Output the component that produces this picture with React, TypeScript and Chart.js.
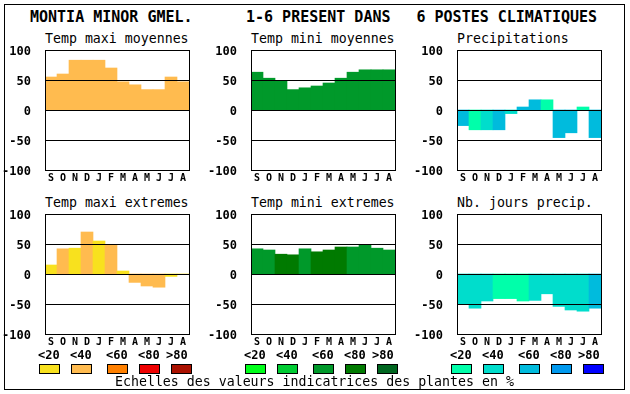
import React, { useEffect, useRef } from "react";
import { Chart, registerables } from "chart.js";

Chart.register(...registerables);

// ---------- data ----------
const MONTHS = ["S", "O", "N", "D", "J", "F", "M", "A", "M", "J", "J", "A"];
const Y_TICKS = [-100, -50, 0, 50, 100];
const GRID_LINES = [50, 0, -50];
const LEGEND_LABELS = ["<20", "<40", "<60", "<80", ">80"];

const TITLE_LEFT = "MONTIA MINOR GMEL.";
const TITLE_MID = "1-6 PRESENT DANS";
const TITLE_RIGHT = "6 POSTES CLIMATIQUES";
const FOOTER = "Echelles des valeurs indicatrices des plantes en %";

const PAL_TEMP = ["#F8E11E", "#FFBB4F", "#FF8000", "#EE0000", "#AA1100"];
const PAL_GREEN = ["#00FF1A", "#00CC33", "#00992A", "#007A00", "#006620"];
const PAL_BLUE = ["#00FFAA", "#00DDCC", "#00BBDD", "#0099EE", "#0000FF"];

const tmaxMoy = [55, 60, 83, 83, 83, 70, 47, 42, 34, 34, 55, 47];
const tmaxMoyClass = [1, 1, 1, 1, 1, 1, 1, 1, 1, 1, 1, 1];

const tminMoy = [63, 53, 49, 34, 37, 40, 45, 53, 63, 67, 67, 67];
const tminMoyClass = [2, 2, 2, 2, 2, 2, 2, 2, 2, 2, 2, 2];

const precip = [-26, -33, -33, -33, -6, 5, 17, 17, -46, -38, 5, -46];
const precipClass = [2, 0, 1, 2, 1, 2, 2, 0, 2, 2, 0, 2];

const tmaxExt = [15, 42, 43, 70, 55, 49, 5, -14, -20, -22, -4, 0];
const tmaxExtClass = [0, 1, 0, 1, 0, 1, 0, 1, 1, 1, 0, 0];

const tminExt = [42, 40, 33, 32, 42, 37, 40, 45, 45, 48, 43, 40];
const tminExtClass = [2, 2, 3, 3, 2, 3, 3, 3, 2, 2, 2, 2];

const nbJours = [-50, -57, -45, -41, -41, -45, -44, -33, -54, -60, -62, -57];
const nbJoursClass = [1, 1, 1, 0, 0, 0, 1, 1, 1, 1, 1, 2];

// ---------- layout ----------
const MONO = '"DejaVu Sans Mono", monospace';
const COL_LEFT = [45, 251, 457];
const ROW_TOP = [50, 214];
const PLOT_W = 144;
const PLOT_H = 120;
const AXIS_W = 45;
const PAD_TOP = 4;
const PAD_RIGHT = 2;
const XAXIS_H = 18;
const BOX_OFFSETS = [-6, 26, 62, 94, 126];
const LABEL_OFFSETS = [-6, 26, 62, 94, 122];

type PanelDef = {
  title: string;
  values: number[];
  classes: number[];
  palette: string[];
  col: number;
  row: number;
};

const PANELS: PanelDef[] = [
  { title: "Temp maxi moyennes", values: tmaxMoy, classes: tmaxMoyClass, palette: PAL_TEMP, col: 0, row: 0 },
  { title: "Temp mini moyennes", values: tminMoy, classes: tminMoyClass, palette: PAL_GREEN, col: 1, row: 0 },
  { title: "Precipitations", values: precip, classes: precipClass, palette: PAL_BLUE, col: 2, row: 0 },
  { title: "Temp maxi extremes", values: tmaxExt, classes: tmaxExtClass, palette: PAL_TEMP, col: 0, row: 1 },
  { title: "Temp mini extremes", values: tminExt, classes: tminExtClass, palette: PAL_GREEN, col: 1, row: 1 },
  { title: "Nb. jours precip.", values: nbJours, classes: nbJoursClass, palette: PAL_BLUE, col: 2, row: 1 },
];

const LEGENDS = [PAL_TEMP, PAL_GREEN, PAL_BLUE];

const framePlugin = {
  id: "frame",
  afterDatasetsDraw(chart: any) {
    const { ctx, chartArea: a, scales } = chart;
    const y = scales.y;
    ctx.save();
    ctx.strokeStyle = "#000";
    ctx.lineWidth = 1;
    ctx.beginPath();
    for (const v of GRID_LINES) {
      const py = Math.round(y.getPixelForValue(v)) + 0.5;
      ctx.moveTo(Math.round(a.left), py);
      ctx.lineTo(Math.round(a.right) + 1, py);
    }
    ctx.stroke();
    ctx.strokeRect(
      Math.round(a.left) + 0.5,
      Math.round(a.top) + 0.5,
      Math.round(a.right - a.left),
      Math.round(a.bottom - a.top)
    );
    ctx.restore();
  },
};

function textTop(baseline: number, size: number) {
  return baseline - 0.846 * size;
}

function Text(props: {
  text: string;
  left: number;
  baseline: number;
  size: number;
  bold?: boolean;
}) {
  const { text, left, baseline, size, bold } = props;
  return (
    <div
      style={{
        position: "absolute",
        left,
        top: textTop(baseline, size),
        fontFamily: MONO,
        fontSize: size,
        lineHeight: `${size}px`,
        fontWeight: bold ? "bold" : "normal",
        whiteSpace: "pre",
        color: "#000",
      }}
    >
      {text}
    </div>
  );
}

function BarPanel({ p }: { p: PanelDef }) {
  const ref = useRef<HTMLCanvasElement | null>(null);
  const plotLeft = COL_LEFT[p.col];
  const plotTop = ROW_TOP[p.row];
  const w = AXIS_W + PLOT_W + PAD_RIGHT;
  const h = PAD_TOP + PLOT_H + XAXIS_H;

  useEffect(() => {
    if (!ref.current) return;
    const chart = new Chart(ref.current, {
      type: "bar",
      data: {
        labels: MONTHS,
        datasets: [
          {
            data: p.values,
            backgroundColor: p.classes.map((c) => p.palette[c]),
            borderWidth: 0,
            barPercentage: 1,
            categoryPercentage: 1,
          },
        ],
      },
      options: {
        responsive: false,
        animation: false,
        devicePixelRatio: 1,
        layout: { padding: { top: PAD_TOP, right: PAD_RIGHT, left: 0, bottom: 0 } },
        plugins: {
          legend: { display: false },
          title: { display: false },
          tooltip: { enabled: false },
        },
        scales: {
          x: {
            grid: { display: false },
            border: { display: false },
            ticks: {
              color: "#000",
              font: { family: MONO, size: 10, weight: "bold" },
              padding: -6,
              maxRotation: 0,
              autoSkip: false,
            },
            afterFit: (s: any) => {
              s.height = XAXIS_H;
              s.paddingLeft = 0;
              s.paddingRight = 0;
              s.paddingTop = 0;
              s.paddingBottom = 0;
            },
          },
          y: {
            min: -100,
            max: 100,
            grid: { display: false },
            border: { display: false },
            afterBuildTicks: (s: any) => {
              s.ticks = Y_TICKS.map((v) => ({ value: v }));
            },
            ticks: {
              color: "#000",
              font: { family: MONO, size: 12, weight: "bold" },
              padding: 6,
              labelOffset: 2,
              callback: (v: any) => String(v),
            },
            afterFit: (s: any) => {
              s.width = AXIS_W;
              s.paddingTop = 0;
              s.paddingBottom = 0;
              s.paddingLeft = 0;
              s.paddingRight = 0;
            },
          },
        },
      },
      plugins: [framePlugin],
    } as any);
    return () => chart.destroy();
  }, []);

  return (
    <>
      <Text text={p.title} left={plotLeft} baseline={plotTop - 7} size={13.25} />
      <canvas
        ref={ref}
        width={w}
        height={h}
        style={{
          position: "absolute",
          left: plotLeft - AXIS_W,
          top: plotTop - PAD_TOP,
          width: w,
          height: h,
          display: "block",
        }}
      />
    </>
  );
}

export default function App() {
  return (
    <div
      style={{
        position: "fixed",
        left: 0,
        top: 0,
        width: 630,
        height: 394,
        background: "#fff",
        overflow: "hidden",
      }}
    >
      <div
        style={{
          position: "absolute",
          left: 4,
          top: 4,
          width: 621,
          height: 386,
          border: "1px solid #000",
          boxSizing: "border-box",
        }}
      />
      <Text text={TITLE_LEFT} left={30} baseline={23} size={15} bold />
      <Text text={TITLE_MID} left={246} baseline={23} size={15} bold />
      <Text text={TITLE_RIGHT} left={416.5} baseline={23} size={15} bold />
      {PANELS.map((p, i) => (
        <BarPanel key={i} p={p} />
      ))}
      {LEGENDS.map((pal, c) => (
        <React.Fragment key={c}>
          {LEGEND_LABELS.map((lab, k) => (
            <Text
              key={"l" + k}
              text={lab}
              left={COL_LEFT[c] + LABEL_OFFSETS[k] - 1}
              baseline={359}
              size={12}
              bold
            />
          ))}
          {pal.map((color, k) => (
            <div
              key={"b" + k}
              style={{
                position: "absolute",
                left: COL_LEFT[c] + BOX_OFFSETS[k],
                top: 364,
                width: 21,
                height: 10,
                background: color,
                border: "1px solid #000",
                boxSizing: "border-box",
              }}
            />
          ))}
        </React.Fragment>
      ))}
      <Text text={FOOTER} left={115} baseline={386} size={13.25} />
    </div>
  );
}
